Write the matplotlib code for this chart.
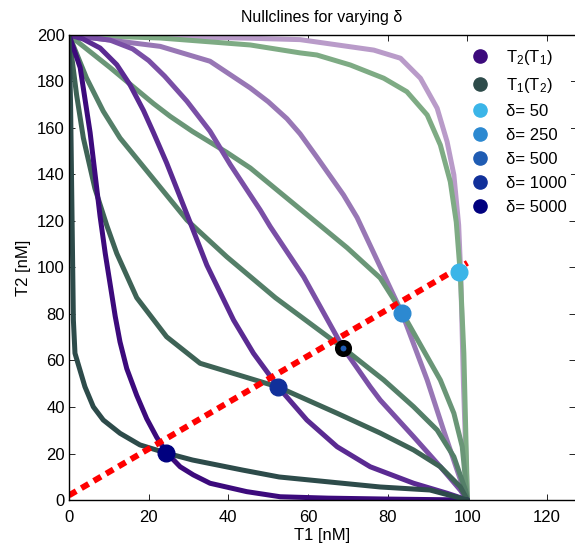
import matplotlib
matplotlib.use('Agg')
import matplotlib.pyplot as plt
from matplotlib.lines import Line2D

plt.rcParams['font.family'] = ['Liberation Sans', 'DejaVu Sans']
plt.rcParams['mathtext.default'] = 'regular'
plt.rcParams['font.size'] = 12

deltas = [50, 250, 500, 1000, 5000]

# --- T2(T1) nullclines (purple), T1 on x, T2 on y --- #
p50_t1 = [0, 22.9, 45.5, 58, 76.5, 83.2, 88.2, 92.4, 94.9, 96.6, 97.8, 98.3, 99, 100]
p50_t2 = [200, 199.4, 198.6, 198, 193.5, 190, 181.4, 168.5, 154.1, 139.8, 118.3, 98, 50, 0]

p250_t1 = [0, 6.1, 22.9, 35.4, 45.5, 50, 54.7, 58, 62.2, 68.9, 72.3, 83.6, 89.9, 94, 97.4, 100]
p250_t2 = [200, 198.7, 195.1, 188.7, 177.2, 171.3, 164, 157.5, 147.5, 131.2, 121.5, 80.3, 51.6, 30.1, 12.9, 0]

p500_t1 = [0, 10.3, 16, 20, 24, 29.6, 35.4, 40.5, 48, 50.5, 58.9, 68.8, 75.6, 78.1, 86.5, 93.2, 98.2, 100]
p500_t2 = [200, 197.8, 194, 189, 182.3, 171.5, 158.6, 144.2, 124.7, 117.6, 96, 65.4, 48.7, 43, 27.2, 14.3, 4.3, 0]

p1000_t1 = [0, 3.5, 7.8, 12, 15.3, 18.7, 21.2, 24.5, 27.5, 30.4, 34.6, 41.3, 46.3, 52.5, 59.7, 67.3, 75.6, 86.5, 94.9, 100]
p1000_t2 = [200, 198.3, 194.4, 187.2, 178.6, 167.5, 158, 145, 132, 119.4, 101, 77.4, 63.1, 48.6, 34.4, 22.9, 14.3, 7.2, 2.9, 0]

p5000_t1 = [0, 2.8, 5.3, 7.8, 9.1, 10.4, 11.6, 12.8, 14.5, 17, 19.5, 22, 24.4, 27.9, 31.2, 35.4, 44.6, 53, 65, 80, 100]
p5000_t2 = [200, 186, 158, 122, 106, 92, 79, 68, 56.5, 45, 35, 27, 20.5, 14.3, 10.8, 7.2, 3.6, 1.4, 0.8, 0.4, 0]

# --- T1(T2) nullclines (green) --- #
g50_t1 = [0, 22.9, 45.5, 58, 62.2, 70.6, 79, 84.8, 89.9, 93.2, 95.7, 97.2, 98.2, 99.1, 100]
g50_t2 = [200, 198.7, 195.7, 192.3, 191.4, 187.1, 181.4, 175.6, 165.6, 152.7, 136.9, 119.5, 97.5, 63.1, 0]

g250_t1 = [0, 10.3, 21.2, 25.4, 31, 39.6, 45.5, 60.6, 69.8, 78.1, 83.7, 93.2, 96.6, 98.7, 100]
g250_t2 = [200, 186, 170.5, 165, 158.5, 149.5, 142.8, 121.5, 108.5, 95.5, 80.4, 51.6, 37.3, 22.9, 0]

g500_t1 = [0, 4.4, 8.6, 12.8, 29.6, 39.6, 51.8, 68.8, 79, 86.5, 92.4, 96.6, 99.5, 100]
g500_t2 = [200, 181.5, 167.2, 155.7, 120.4, 104.6, 87, 65.4, 51.6, 40.1, 30.1, 18.6, 4.3, 0]

g1000_t1 = [0, 1.9, 3.6, 6.5, 9.5, 12, 17, 24.5, 32.9, 52.5, 67.3, 78.1, 86.5, 93.2, 98.2, 100]
g1000_t2 = [200, 174.3, 155.7, 134, 118, 106, 87, 70.2, 58.8, 48.6, 37.3, 28.8, 21.5, 14.3, 5.7, 0]

g5000_t1 = [0, 0.4, 0.7, 1.1, 1.5, 2.75, 4, 6.1, 8.6, 12.8, 17.8, 24.4, 31, 43.5, 52.75, 78.1, 90.6, 100]
g5000_t2 = [200, 170, 130, 77.4, 63.1, 55.9, 48.7, 40.1, 34.4, 28.7, 23.7, 20.2, 17.2, 12.9, 9.9, 5.6, 4.3, 0]

# --- steady states (intersections) and the T1 ~ T2 line --- #
ss_t1 = [98, 83.7, 68.8, 52.5, 24.4]
ss_t2 = [98.1, 80.4, 65.4, 48.6, 20.2]
diag_t1 = [0, 100]
diag_t2 = [2, 102]

purple_cols = ['#b99bc9', '#9877b5', '#7a4fa6', '#5a2a92', '#3c0a7c']
green_cols = ['#7eab84', '#6a9677', '#547f68', '#3e6356', '#2d4b4a']
dot_cols = ['#3bb5e8', '#2c89d1', '#1f5cb3', '#11309a', '#00007f']

purple = [(p50_t1, p50_t2), (p250_t1, p250_t2), (p500_t1, p500_t2),
          (p1000_t1, p1000_t2), (p5000_t1, p5000_t2)]
green = [(g50_t1, g50_t2), (g250_t1, g250_t2), (g500_t1, g500_t2),
         (g1000_t1, g1000_t2), (g5000_t1, g5000_t2)]

fig = plt.figure(figsize=(5.75, 5.5), dpi=100)
ax = fig.add_axes([0.12, 0.0909, 0.88, 0.8455])

for i in range(len(deltas)):
    ax.plot(*purple[i], color=purple_cols[i], lw=3.6, solid_joinstyle='round', solid_capstyle='round')
    ax.plot(*green[i], color=green_cols[i], lw=3.6, solid_joinstyle='round', solid_capstyle='round')

ax.plot(diag_t1, diag_t2, color='red', lw=4.3, ls=(0, (1.4, 1.0)))

for i, d in enumerate(deltas):
    if d == 500:
        # ring around the reference steady state
        ax.plot(ss_t1[i], ss_t2[i], 'o', ms=8.3, mfc=dot_cols[i], mec='black', mew=4)
    else:
        ax.plot(ss_t1[i], ss_t2[i], 'o', ms=12, color=dot_cols[i])

ax.set_xlim(0, 127)
ax.set_ylim(0, 200)
ax.set_xticks(range(0, 121, 20))
ax.set_yticks(range(0, 201, 20))
ax.tick_params(direction='in', top=True, right=True, length=4, width=0.6, labelsize=12)
ax.tick_params(axis='x', pad=7)
ax.tick_params(axis='y', pad=3)
for s in ['left', 'bottom', 'top']:
    ax.spines[s].set_linewidth(1.0)
ax.spines['right'].set_visible(False)

ax.set_title('Nullclines for varying δ', fontsize=11.5, pad=9)
ax.set_xlabel('T1 [nM]', fontsize=12, labelpad=2)
ax.set_ylabel('T2 [nM]', fontsize=12, labelpad=4)

handles = [Line2D([], [], ls='none', marker='o', ms=9.5, color=purple_cols[-1]),
           Line2D([], [], ls='none', marker='o', ms=9.5, color=green_cols[-1])]
labels = ['T$_2$(T$_1$)', 'T$_1$(T$_2$)']
for i, d in enumerate(deltas):
    handles.append(Line2D([], [], ls='none', marker='o', ms=9.5, color=dot_cols[i]))
    labels.append(f'δ= {d}')
leg = ax.legend(handles, labels, loc='upper left', bbox_to_anchor=(0.769, 0.997),
                frameon=True, fontsize=12, handletextpad=1.0, labelspacing=0.54,
                borderpad=0.2, handlelength=1.2)
leg.get_frame().set_edgecolor('none')
leg.get_frame().set_facecolor('white')
leg.get_frame().set_alpha(1)

fig.savefig('out.png', dpi=100)
